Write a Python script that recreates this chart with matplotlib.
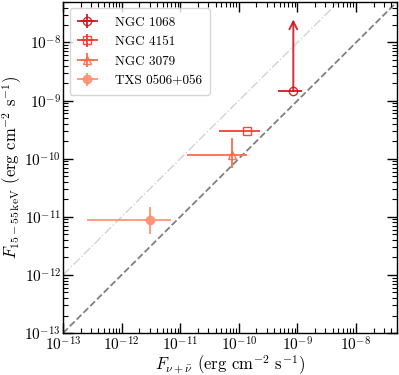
import matplotlib
matplotlib.use("Agg")
import matplotlib.pyplot as plt
import numpy as np

plt.rcParams['font.family'] = 'serif'
plt.rcParams['font.serif'] = ['cmr10']
plt.rcParams['mathtext.fontset'] = 'cm'
plt.rcParams['axes.formatter.use_mathtext'] = True
plt.rcParams['axes.unicode_minus'] = False

names = ["NGC 1068", "NGC 4151", "NGC 3079", "TXS 0506+056"]
nu_flux = [8.5e-10, 1.4e-10, 7.6e-11, 3.0e-12]
nu_lo = [4.7e-10, 4.6e-11, 1.3e-11, 2.6e-13]
nu_hi = [1.2e-9, 2.3e-10, 1.38e-10, 7.0e-12]
x_flux = [1.45e-9, 3.0e-10, 1.17e-10, 8.7e-12]
x_lo = [1.45e-9, 3.0e-10, 6.8e-11, 5.0e-12]
x_hi = [2.5e-8, 3.0e-10, 2.3e-10, 1.45e-11]
upper_limit_arrow = [True, False, False, False]
markers = ["o", "s", "^", "o"]
filled = [False, False, False, True]
colors = ["#cb181d", "#ef3b2c", "#fb6a4a", "#fc9272"]

fig = plt.figure(figsize=(3.99, 3.75), dpi=100)
ax = fig.add_axes([0.158, 0.112, 0.837, 0.883])

lim = (1e-13, 5e-8)
grid = np.array(lim)
ax.plot(grid, grid, ls="--", color="gray", lw=1.3, zorder=1)
ax.plot(grid, 10 * grid, ls="-.", color="lightgray", lw=1.0, zorder=1)

for i in range(len(names)):
    xerr = [[nu_flux[i] - nu_lo[i]], [nu_hi[i] - nu_flux[i]]]
    if upper_limit_arrow[i]:
        yerr = [[0], [0]]
        ax.annotate("", xy=(nu_flux[i], x_hi[i]), xytext=(nu_flux[i], x_flux[i]),
                    arrowprops=dict(arrowstyle="->", color=colors[i], lw=1.4,
                                    alpha=0.9, shrinkA=0, shrinkB=0,
                                    mutation_scale=14), zorder=3)
    else:
        yerr = [[x_flux[i] - x_lo[i]], [x_hi[i] - x_flux[i]]]
    ax.errorbar([nu_flux[i]], [x_flux[i]], xerr=xerr, yerr=yerr,
                marker=markers[i],
                mfc=colors[i] if filled[i] else "none", mec=colors[i],
                color=colors[i], ms=6, lw=1.4, capsize=0, alpha=0.9,
                label=names[i], zorder=3)

ax.set_xscale("log")
ax.set_yscale("log")
ax.set_xlim(*lim)
ax.set_ylim(*lim)
ax.xaxis.set_major_locator(matplotlib.ticker.LogLocator(base=10, numticks=20))
ax.yaxis.set_major_locator(matplotlib.ticker.LogLocator(base=10, numticks=20))
ax.xaxis.set_minor_locator(matplotlib.ticker.LogLocator(base=10, subs=np.arange(2, 10), numticks=20))
ax.yaxis.set_minor_locator(matplotlib.ticker.LogLocator(base=10, subs=np.arange(2, 10), numticks=20))
ax.tick_params(which="both", direction="in", top=True, right=True, labelsize=11, pad=1.5)
ax.tick_params(which="major", length=7, width=1.0)
ax.tick_params(which="minor", length=3.5, width=0.8)
for s in ax.spines.values():
    s.set_linewidth(1.0)

ax.set_xlabel(r"$F_{\nu+\bar{\nu}}$ (erg cm$^{-2}$ s$^{-1}$)", fontsize=12, labelpad=0)
ax.set_ylabel(r"$F_{15-55\,\mathrm{keV}}$ (erg cm$^{-2}$ s$^{-1}$)", fontsize=12, labelpad=0)

leg = ax.legend(loc="upper left", fontsize=9.5, handlelength=1.5, handletextpad=1.3,
                borderpad=0.6, labelspacing=0.55, frameon=True)

fig.savefig("out.png", dpi=100)
